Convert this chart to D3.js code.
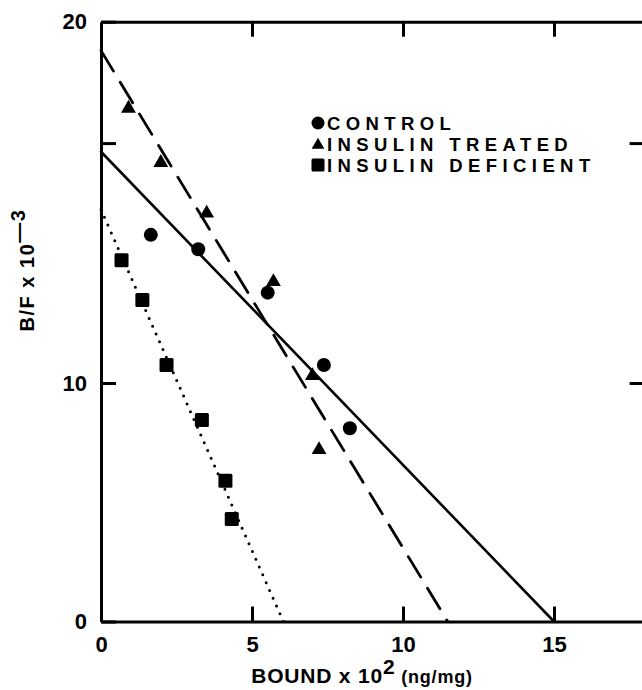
<!DOCTYPE html>
<html>
<head>
<meta charset="utf-8">
<script src="https://cdn.jsdelivr.net/npm/d3@7"></script>
<style>
  body { margin: 0; background: #fff; }
  text { font-family: "Liberation Sans", Arial, sans-serif; font-weight: bold; fill: #000; }
</style>
</head>
<body>
<div id="chart"></div>
<script>
// points (x = bound x 10^2, y = B/F x 10^-3)
const controlX = [1.65, 3.22, 5.52, 7.38, 8.24];
const controlY = [14.1, 13.7, 12.5, 10.5, 8.1];
const treatedX = [0.91, 1.98, 3.50, 5.71, 7.00, 7.22];
const treatedY = [17.6, 16.1, 14.7, 12.8, 10.2, 7.2];
const deficientX = [0.68, 1.37, 2.17, 3.34, 4.12, 4.33];
const deficientY = [13.4, 12.3, 10.5, 8.45, 5.9, 4.3];

// fitted lines: [intercept on y axis, intercept on x axis]
const controlLine = [16.4, 15.0];
const treatedLine = [19.2, 11.48];
const deficientLine = [14.8, 6.04];

const xTicks = [0, 5, 10, 15];
const yTicks = [0, 10, 16.64, 20];
const yTickLabels = ["0", "10", "", "20"];
const legendNames = ["CONTROL", "INSULIN TREATED", "INSULIN DEFICIENT"];

var width = 642, height = 690;

var svg = d3.select("#chart")
  .append("svg")
  .attr("width", width)
  .attr("height", height);

var x = d3.scaleLinear().domain([0, 18]).range([101, 644.6]);
// the printed y axis is not evenly spaced above 10
var y = d3.scaleLinear().domain([0, 10, 20]).range([621.5, 383, 21.7]);

function styleAxis(g) {
  g.select(".domain").attr("stroke", "#000").attr("stroke-width", 3);
  g.selectAll(".tick line").attr("stroke", "#000").attr("stroke-width", 3);
  g.selectAll(".tick text").style("font-size", "22px");
}

// bottom axis
svg.append("g")
  .attr("transform", "translate(0," + y(0) + ")")
  .call(d3.axisBottom(x).tickValues(xTicks).tickSizeInner(-15).tickSizeOuter(0).tickPadding(15).tickFormat(d3.format("d")))
  .call(styleAxis);
// top axis
svg.append("g")
  .attr("transform", "translate(0," + y(20) + ")")
  .call(d3.axisTop(x).tickValues(xTicks.slice(1)).tickSizeInner(-15).tickSizeOuter(0).tickFormat(""))
  .call(styleAxis);
// left axis
svg.append("g")
  .attr("transform", "translate(" + x(0) + ",0)")
  .call(d3.axisLeft(y).tickValues(yTicks).tickSizeInner(-15).tickSizeOuter(0).tickPadding(14)
    .tickFormat(function(d, i) { return yTickLabels[i]; }))
  .call(styleAxis);
// right axis
svg.append("g")
  .attr("transform", "translate(" + x(18) + ",0)")
  .call(d3.axisRight(y).tickValues(yTicks.slice(1, 3)).tickSizeInner(-15).tickSizeOuter(0).tickFormat(""))
  .call(styleAxis);

// axis titles
var xt = svg.append("text")
  .attr("x", 362)
  .attr("y", 683)
  .attr("text-anchor", "middle")
  .style("font-size", "21px")
  .style("letter-spacing", "0.8px");
xt.append("tspan").text("BOUND x 10");
xt.append("tspan").attr("dy", -9).text("2");
xt.append("tspan").attr("dy", 9).style("font-size", "18px").text(" (ng/mg)");

var yt = svg.append("text")
  .attr("transform", "translate(34,270) rotate(-90)")
  .attr("text-anchor", "middle")
  .style("font-size", "20px")
  .style("letter-spacing", "1.5px");
yt.append("tspan").text("B/F x 10");
yt.append("tspan").attr("dy", -9).text("\u20143");

// fitted lines
var line = d3.line()
  .x(function(d) { return x(d[0]); })
  .y(function(d) { return y(d[1]); });

function addLine(l, dash, w) {
  svg.append("path")
    .datum([[0, l[0]], [l[1], 0]])
    .attr("d", line)
    .attr("fill", "none")
    .attr("stroke", "#000")
    .attr("stroke-width", w)
    .attr("stroke-linecap", "round")
    .attr("stroke-dasharray", dash);
}
addLine(controlLine, null, 2.6);
addLine(treatedLine, "24,13", 2.8);
addLine(deficientLine, "0,8.5", 3);

// markers
function zip(a, b) { return a.map(function(v, i) { return [v, b[i]]; }); }

svg.selectAll(".ctrl")
  .data(zip(controlX, controlY))
  .enter().append("circle")
  .attr("class", "ctrl")
  .attr("cx", function(d) { return x(d[0]); })
  .attr("cy", function(d) { return y(d[1]); })
  .attr("r", 7);

var tri = d3.symbol().type(d3.symbolTriangle).size(95);
svg.selectAll(".trt")
  .data(zip(treatedX, treatedY))
  .enter().append("path")
  .attr("class", "trt")
  .attr("d", tri)
  .attr("transform", function(d) { return "translate(" + x(d[0]) + "," + y(d[1]) + ")"; });

svg.selectAll(".def")
  .data(zip(deficientX, deficientY))
  .enter().append("rect")
  .attr("class", "def")
  .attr("x", function(d) { return x(d[0]) - 7; })
  .attr("y", function(d) { return y(d[1]) - 7; })
  .attr("width", 14)
  .attr("height", 14)
  .attr("rx", 1.5);

// legend
var legend = svg.append("g").attr("transform", "translate(318,123)");
legendNames.forEach(function(n, i) {
  var g = legend.append("g").attr("transform", "translate(0," + i * 21 + ")");
  if (i == 0) g.append("circle").attr("r", 6.5);
  if (i == 1) g.append("path").attr("d", d3.symbol().type(d3.symbolTriangle).size(70)).attr("transform", "translate(0,1)");
  if (i == 2) g.append("rect").attr("x", -6.5).attr("y", -6.5).attr("width", 13).attr("height", 13).attr("rx", 1.5);
  g.append("text")
    .attr("x", 9)
    .attr("y", 7)
    .style("font-size", "18.5px")
    .style("letter-spacing", "5.4px")
    .text(n);
});
</script>
</body>
</html>
